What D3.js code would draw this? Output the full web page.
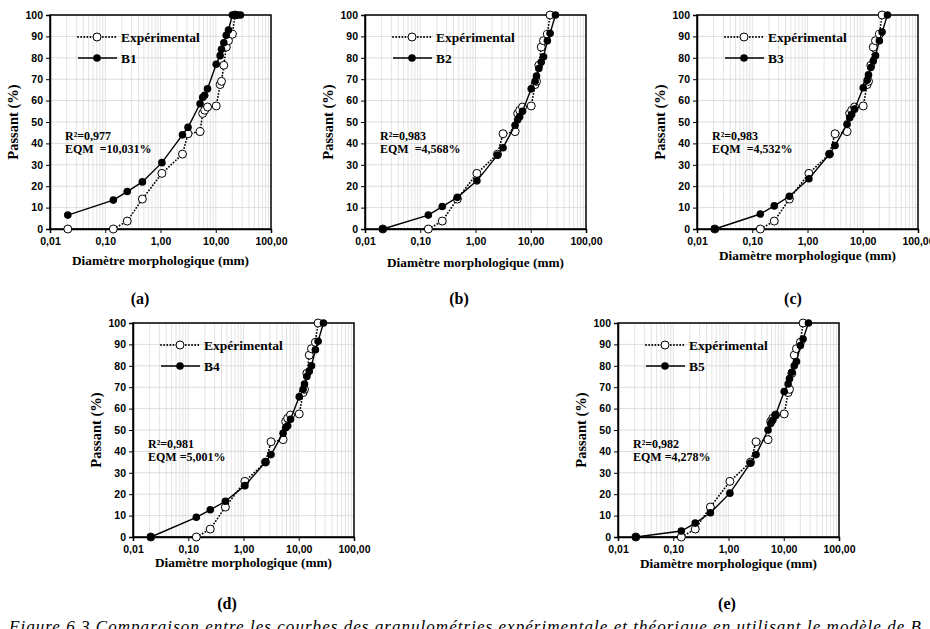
<!DOCTYPE html>
<html>
<head>
  <meta charset="UTF-8" />
  <title>Courbes granulométriques</title>
  <style>
    body { margin: 0; background: #fff; }
    svg { display: block; font-family: "Liberation Serif", "Times New Roman", serif; }
    .tick-label { font-size: 10.5px; font-weight: bold; }
    .x-title { font-size: 13.3px; font-weight: bold; }
    .y-title { font-size: 14.5px; font-weight: bold; }
    .legend-text { font-size: 13.5px; font-weight: bold; }
    .stat-text { font-size: 12px; font-weight: bold; white-space: pre; }
    .panel-label { font-size: 16px; font-weight: bold; }
    .caption { font-size: 17px; font-style: italic; }
  </style>
</head>
<body>
<svg id="chart" width="930" height="629"></svg>
<script src="https://d3js.org/d3.v7.min.js"></script>
<script>
  // données
  const expX = [0.021, 0.14, 0.25, 0.47, 1.06, 2.5, 3.15, 5.2, 5.8, 6.3, 7.1, 10.2, 12, 12.7, 14, 15.5, 17, 20, 22.4];
  const expY = [0, 0, 3.7, 14, 26, 35, 44.5, 45.5, 54, 55.5, 57, 57.5, 67.5, 69, 76.5, 85, 88, 91, 100];

  const b1X = [0.021, 0.14, 0.25, 0.47, 1.06, 2.5, 3.15, 5.2, 5.8, 6.3, 7.1, 10.2, 12, 12.7, 14, 15.5, 17, 20, 22.4, 25, 28];
  const b1Y = [6.5, 13.5, 17.5, 22, 31, 44, 47.5, 58.5, 61.5, 62.5, 65.5, 77, 81, 84, 87, 90.5, 93, 100, 100, 100, 100];

  const modelX = [0.021, 0.14, 0.25, 0.47, 1.06, 2.5, 3.15, 5.2, 5.8, 6.3, 7.1, 10.2, 12, 12.7, 14, 15.5, 17, 20, 22.4, 28];
  const b2Y = [0, 6.5, 10.5, 14.8, 22.5, 34.5, 38, 48.5, 51, 52.5, 55, 65.5, 69, 71.5, 75, 78, 80.5, 88, 91.5, 100];
  const b3Y = [0, 7, 10.8, 15.3, 23.5, 35, 39, 49, 52, 53.5, 56, 66, 69.5, 72, 75.5, 78.5, 81, 88, 92, 100];
  const b4Y = [0, 9.2, 12.7, 16.7, 24, 35, 38.5, 48.5, 51, 52, 55, 65.5, 69, 71.5, 75, 77.5, 80, 87.5, 91.5, 100];
  const b5Y = [0, 2.8, 6.5, 11.3, 20.5, 34.5, 38.5, 50, 53, 54.5, 57, 68, 71.5, 74, 77, 80, 82, 89.5, 92.5, 100];

  const xTicks = [0.01, 0.1, 1, 10, 100];
  const yTicks = [0, 10, 20, 30, 40, 50, 60, 70, 80, 90, 100];
  const modelNames = ["B1", "B2", "B3", "B4", "B5"];
  const r2Labels = ["R²=0,977", "R²=0,983", "R²=0,983", "R²=0,981", "R²=0,982"];
  const eqmLabels = ["EQM  =10,031%", "EQM  =4,568%", "EQM  =4,532%", "EQM =5,001%", "EQM =4,278%"];
  const panelLetters = ["(a)", "(b)", "(c)", "(d)", "(e)"];

  const modelSeries = [
    { x: b1X, y: b1Y },
    { x: modelX, y: b2Y },
    { x: modelX, y: b3Y },
    { x: modelX, y: b4Y },
    { x: modelX, y: b5Y }
  ];

  // mise en page des cinq graphiques
  const panels = [
    { left: 50, top: 15, xTitle: 32, letterX: 140, letterY: 304 },
    { left: 365, top: 15, xTitle: 34, letterX: 459, letterY: 304 },
    { left: 697, top: 15, xTitle: 27, letterX: 793, letterY: 304 },
    { left: 133, top: 323, xTitle: 26, letterX: 227, letterY: 609 },
    { left: 618, top: 323, xTitle: 27, letterX: 727, letterY: 609 }
  ];
  const W = 221, H = 214;
  const fmt = v => d3.format(".2f")(v).replace(".", ",");

  const svg = d3.select("#chart");

  panels.forEach((p, i) => {
    const g = svg.append("g").attr("transform", `translate(${p.left},${p.top})`);

    const x = d3.scaleLog().domain([0.01, 100]).range([0, W]);
    const y = d3.scaleLinear().domain([0, 100]).range([H, 0]);

    // grille
    const minor = [];
    for (let e = -2; e < 2; e++) {
      for (let k = 1; k < 10; k++) minor.push(k * Math.pow(10, e));
    }
    g.append("g").selectAll("line").data(minor).join("line")
      .attr("x1", d => x(d)).attr("x2", d => x(d))
      .attr("y1", 0).attr("y2", H)
      .attr("stroke", "#dcdcdc").attr("stroke-width", 0.8);
    g.append("g").selectAll("line").data(yTicks).join("line")
      .attr("x1", 0).attr("x2", W)
      .attr("y1", d => y(d)).attr("y2", d => y(d))
      .attr("stroke", "#d4d4d4").attr("stroke-width", 0.8);

    // axes
    const xAxis = g.append("g").attr("transform", `translate(0,${H})`)
      .call(d3.axisBottom(x).tickValues(xTicks).tickFormat(fmt).tickSize(4).tickPadding(5));
    const yAxis = g.append("g")
      .call(d3.axisLeft(y).tickValues(yTicks).tickSize(4).tickPadding(3));
    [xAxis, yAxis].forEach(a => {
      a.select(".domain").attr("stroke", "#000").attr("stroke-width", 1.5);
      a.selectAll(".tick line").attr("stroke", "#000");
      a.selectAll("text").attr("class", "tick-label").attr("fill", "#000")
        .attr("font-family", null).attr("font-size", null);
    });
    g.append("rect").attr("width", W).attr("height", H)
      .attr("fill", "none").attr("stroke", "#000").attr("stroke-width", 1.5);

    // titres
    g.append("text").attr("class", "x-title")
      .attr("x", W / 2).attr("y", H + p.xTitle + 4)
      .attr("text-anchor", "middle").text("Diamètre morphologique (mm)");
    g.append("text").attr("class", "y-title")
      .attr("transform", `translate(-32,${H / 2}) rotate(-90)`)
      .attr("text-anchor", "middle").text("Passant (%)");

    // séries
    const line = d3.line().x(d => x(d[0])).y(d => y(d[1]));
    const expData = d3.zip(expX, expY);
    const mod = modelSeries[i];
    const modData = d3.zip(mod.x, mod.y);

    g.append("path").datum(expData).attr("d", line)
      .attr("fill", "none").attr("stroke", "#000").attr("stroke-width", 1.8)
      .attr("stroke-dasharray", "0.1,3").attr("stroke-linecap", "round");
    g.append("g").selectAll("circle").data(expData).join("circle")
      .attr("cx", d => x(d[0])).attr("cy", d => y(d[1])).attr("r", 4)
      .attr("fill", "#fff").attr("stroke", "#000").attr("stroke-width", 1);

    g.append("path").datum(modData).attr("d", line)
      .attr("fill", "none").attr("stroke", "#000").attr("stroke-width", 1.4);
    g.append("g").selectAll("circle").data(modData).join("circle")
      .attr("cx", d => x(d[0])).attr("cy", d => y(d[1])).attr("r", 3.8)
      .attr("fill", "#000");

    // légende
    const leg = g.append("g").attr("transform", "translate(28,22)");
    leg.append("line").attr("x1", 0).attr("x2", 39).attr("y1", 0).attr("y2", 0)
      .attr("stroke", "#000").attr("stroke-width", 1.8)
      .attr("stroke-dasharray", "0.1,3").attr("stroke-linecap", "round");
    leg.append("circle").attr("cx", 19).attr("cy", 0).attr("r", 4)
      .attr("fill", "#fff").attr("stroke", "#000");
    leg.append("text").attr("class", "legend-text").attr("x", 43).attr("y", 4.5).text("Expérimental");
    leg.append("line").attr("x1", 0).attr("x2", 39).attr("y1", 21).attr("y2", 21)
      .attr("stroke", "#000").attr("stroke-width", 1.4);
    leg.append("circle").attr("cx", 19).attr("cy", 21).attr("r", 3.8).attr("fill", "#000");
    leg.append("text").attr("class", "legend-text").attr("x", 43).attr("y", 25.5).text(modelNames[i]);

    // statistiques
    g.append("text").attr("class", "stat-text").attr("x", 15).attr("y", 125).text(r2Labels[i]);
    g.append("text").attr("class", "stat-text").attr("x", 15).attr("y", 138).text(eqmLabels[i]);

    svg.append("text").attr("class", "panel-label")
      .attr("x", p.letterX).attr("y", p.letterY)
      .attr("text-anchor", "middle").text(panelLetters[i]);
  });

  svg.append("text").attr("class", "caption").attr("x", 9).attr("y", 632)
    .attr("textLength", 912).attr("lengthAdjust", "spacing")
    .text("Figure 6.3 Comparaison entre les courbes des granulométries expérimentale et théorique en utilisant le modèle de B");
</script>
</body>
</html>
